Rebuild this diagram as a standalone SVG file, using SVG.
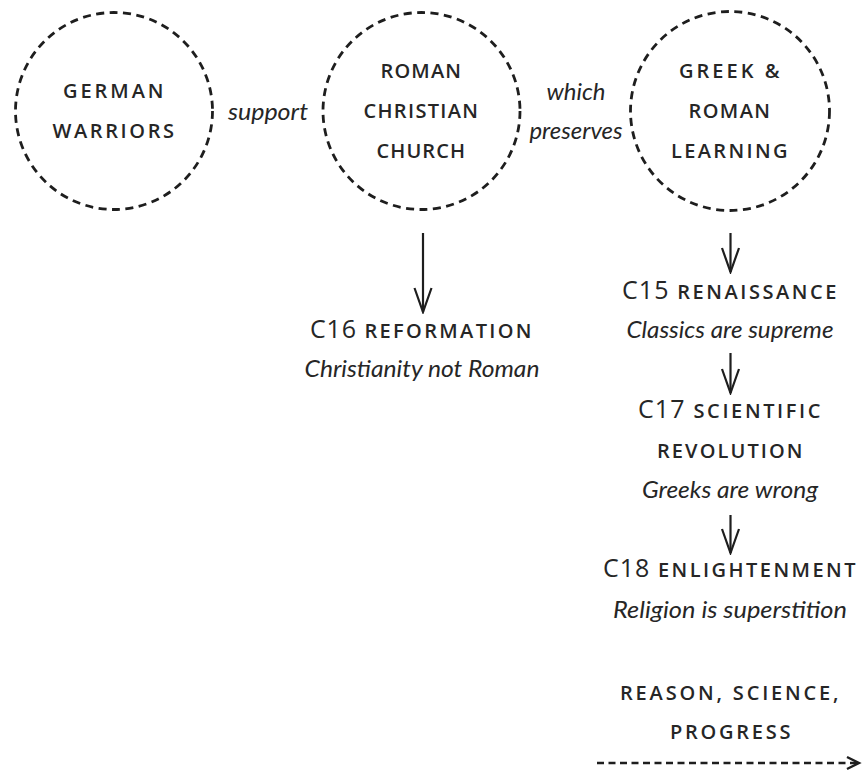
<svg xmlns="http://www.w3.org/2000/svg" width="862" height="772" viewBox="0 0 862 772">
<defs>
<style>
.circ{fill:none;stroke:#1e1e1e;stroke-width:2.8;stroke-dasharray:8 5.5}
.cap{font-family:"Open Sans","DejaVu Sans",sans-serif;font-size:20px;font-weight:600;fill:#262626;text-anchor:middle;letter-spacing:1.5px}
.big{font-size:25px;font-weight:400;letter-spacing:0}
.it{font-family:Lato,"Open Sans","DejaVu Sans",sans-serif;font-style:italic;font-size:24px;fill:#262626;text-anchor:middle}
.arr{fill:none;stroke:#1e1e1e;stroke-width:2.2}
.dash{fill:none;stroke:#1e1e1e;stroke-width:2.4;stroke-dasharray:7 4.5}
</style>
<marker id="v" viewBox="-26 -11 28 22" refX="0" refY="0" markerWidth="28" markerHeight="22" markerUnits="userSpaceOnUse" orient="auto">
<path d="M-24,-8.5 L0,0 L-24,8.5" fill="none" stroke="#1e1e1e" stroke-width="2.2"/>
</marker>
</defs>
<rect width="862" height="772" fill="#ffffff"/>

<g id="german-warriors">
<circle class="circ" cx="114" cy="111" r="98.5"/>
<text class="cap" x="114" y="98" textLength="102" lengthAdjust="spacing">GERMAN</text>
<text class="cap" x="114" y="138" textLength="123" lengthAdjust="spacing">WARRIORS</text>
</g>

<g id="roman-church">
<circle class="circ" cx="421.5" cy="111" r="98.5"/>
<text class="cap" x="421.5" y="78" textLength="82" lengthAdjust="spacing">ROMAN</text>
<text class="cap" x="421.5" y="118" textLength="116" lengthAdjust="spacing">CHRISTIAN</text>
<text class="cap" x="421.5" y="158" textLength="90" lengthAdjust="spacing">CHURCH</text>
</g>

<g id="greek-roman-learning">
<circle class="circ" cx="730" cy="111" r="99.5"/>
<text class="cap" x="730" y="78" textLength="102" lengthAdjust="spacing">GREEK &amp;</text>
<text class="cap" x="730" y="118" textLength="83" lengthAdjust="spacing">ROMAN</text>
<text class="cap" x="730" y="158" textLength="118" lengthAdjust="spacing">LEARNING</text>
</g>

<g id="labels">
<text class="it" x="268" y="120" textLength="80" lengthAdjust="spacingAndGlyphs">support</text>
<text class="it" x="576" y="100" textLength="59" lengthAdjust="spacingAndGlyphs">which</text>
<text class="it" x="576" y="139" textLength="93" lengthAdjust="spacingAndGlyphs">preserves</text>
</g>

<g id="reformation">
<text class="cap" x="421.5" y="338" textLength="223" lengthAdjust="spacing"><tspan class="big">C16</tspan> REFORMATION</text>
<text class="it" x="422" y="377" textLength="235" lengthAdjust="spacingAndGlyphs">Christianity not Roman</text>
</g>

<g id="renaissance">
<text class="cap" x="730" y="299" textLength="216" lengthAdjust="spacing"><tspan class="big">C15</tspan> RENAISSANCE</text>
<text class="it" x="730" y="338" textLength="207" lengthAdjust="spacingAndGlyphs">Classics are supreme</text>
</g>

<g id="scientific-revolution">
<text class="cap" x="730" y="418" textLength="184" lengthAdjust="spacing"><tspan class="big">C17</tspan> SCIENTIFIC</text>
<text class="cap" x="730.5" y="458" textLength="147" lengthAdjust="spacing">REVOLUTION</text>
<text class="it" x="730" y="498" textLength="176" lengthAdjust="spacingAndGlyphs">Greeks are wrong</text>
</g>

<g id="enlightenment">
<text class="cap" x="730" y="577" textLength="254" lengthAdjust="spacing"><tspan class="big">C18</tspan> ENLIGHTENMENT</text>
<text class="it" x="730" y="618" textLength="234" lengthAdjust="spacingAndGlyphs">Religion is superstition</text>
</g>

<g id="progress">
<text class="cap" x="730" y="700" textLength="220" lengthAdjust="spacing">REASON, SCIENCE,</text>
<text class="cap" x="731" y="739" textLength="122" lengthAdjust="spacing">PROGRESS</text>
</g>

<g id="connectors">
<line class="arr" x1="423" y1="233" x2="423" y2="312" marker-end="url(#v)"/>
<line class="arr" x1="730.5" y1="233" x2="730.5" y2="272" marker-end="url(#v)"/>
<line class="arr" x1="730.5" y1="353" x2="730.5" y2="393" marker-end="url(#v)"/>
<line class="arr" x1="730.5" y1="515" x2="730.5" y2="553" marker-end="url(#v)"/>
<line class="dash" x1="597" y1="763" x2="857" y2="763"/>
<path d="M847,757 L859,763 L847,769" fill="none" stroke="#1e1e1e" stroke-width="2.4"/>
</g>
</svg>
